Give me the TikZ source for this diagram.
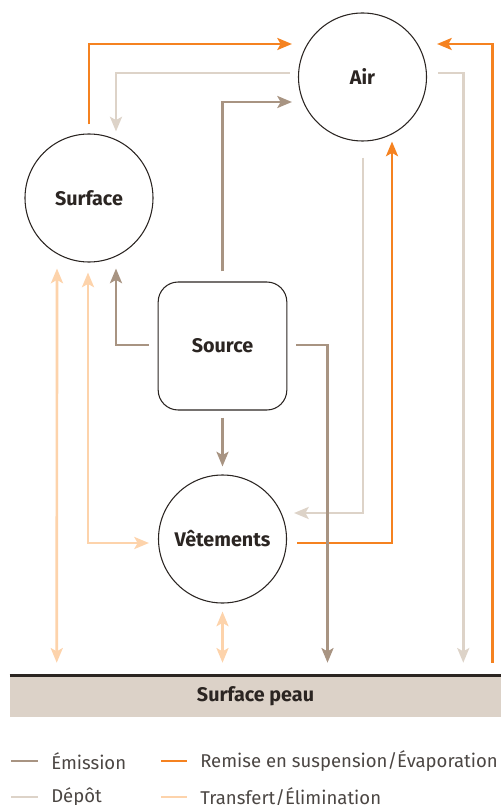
\documentclass[tikz,border=0pt]{standalone}
\usepackage{fontspec}
\setmainfont{Fira Sans}
\usetikzlibrary{arrows.meta,calc,positioning}
\definecolor{cremise}{HTML}{F58220}
\definecolor{cemis}{HTML}{A89482}
\definecolor{cdepot}{HTML}{DDD3C8}
\definecolor{ctrans}{HTML}{FDD3AB}
\definecolor{cpeau}{HTML}{DCD2C8}
\definecolor{cdark}{HTML}{2B2522}
\begin{document}
\begin{tikzpicture}[x=0.75pt,y=-0.75pt,
  circ/.style={circle,draw=cdark,line width=0.8pt,minimum size=96pt,inner sep=0pt,font=\bfseries\fontsize{14.8}{17}\selectfont,text=cdark},
  srcbox/.style={rectangle,rounded corners=15pt,draw=cdark,line width=0.8pt,minimum width=96.5pt,minimum height=96pt,inner sep=0pt,font=\bfseries\fontsize{14.8}{17}\selectfont,text=cdark},
  peaubox/.style={rectangle,fill=cpeau,minimum width=368.25pt,minimum height=30.75pt,inner sep=0pt,font=\bfseries\fontsize{14.8}{17}\selectfont,text=cdark},
  tip/.tip={Stealth[length=11pt,width=9pt,inset=2.5pt]},
  flow/.style={line width=2pt},
  remise/.style={flow,draw=cremise,-tip},
  emis/.style={flow,draw=cemis,-tip},
  depot/.style={flow,draw=cdepot,-tip},
  trans/.style={flow,draw=ctrans,tip-tip},
  legtext/.style={anchor=west,inner sep=0pt,font=\fontsize{13.9}{16}\selectfont,text=cdark!85}
]
\useasboundingbox (0,0) rectangle (501,805);

% nodes
\node[circ] (air) at (362.5,77) {Air};
\node[circ] (surf) at (89,198) {Surface};
\node[srcbox] (src) at (222.5,346) {Source};
\node[circ] (vet) at (222.5,539) {Vêtements};
\node[peaubox] (peau) at (255.5,696.5) {Surface peau};
\draw[cdark,line width=2pt] (peau.north west) -- (peau.north east);

% Remise en suspension / Evaporation
\draw[remise] ($(surf.north)+(0,-9)$) |- ($(air.west)+(-6,-33)$);
\draw[remise] ($(peau.north east)+(-9,-13)$) |- ($(air.east)+(10,-33)$);
\draw[remise] ($(vet.east)+(10,4)$) -| ($(air.south)+(29.5,0)$);

% Depot
\draw[depot] ($(air.west)+(-8,-4)$) -| ($(surf.north)+(27,-2)$);
\draw[depot] ($(air.east)+(11,-4)$) -| ($(peau.north east)+(-38,-13)$);
\draw[depot] ($(air.south)+(0.5,16)$) |- ($(vet.east)+(7,-26)$);

% Emission
\draw[emis] ($(src.north)+(0,-10)$) |- ($(air.west)+(-6,25)$);
\draw[emis] ($(src.west)+(-9,-1)$) -| ($(surf.south)+(27,6)$);
\draw[emis] ($(src.south)+(0,7)$) -- ($(vet.north)+(0,-8)$);
\draw[emis] ($(src.east)+(9,-1)$) -| ($(peau.north)+(72,-13)$);

% Transfert / Elimination
\draw[trans] ($(surf.south)+(-32,6)$) -- ($(peau.north west)+(47,-13)$);
\draw[trans] ($(surf.south)+(-1,10)$) |- ($(vet.west)+(-9,4)$);
\draw[trans] ($(vet.south)+(0,8)$) -- ($(vet.south|-peau.north)+(0,-13)$);

% legend
\draw[flow,cemis] (11,761) -- (38,761);
\node[legtext] (l1) at (51,761) {Émission};
\draw[flow,cremise] (161,761) -- (187,761);
\node[legtext] (l2) at (200,761) {Remise en suspension/Évaporation};
\draw[flow,cdepot] (11,797) -- (38,797);
\node[legtext] (l3) at (51,797) {Dépôt};
\draw[flow,ctrans] (161,797) -- (187,797);
\node[legtext] (l4) at (200,797) {Transfert/Élimination};
\end{tikzpicture}
\end{document}
